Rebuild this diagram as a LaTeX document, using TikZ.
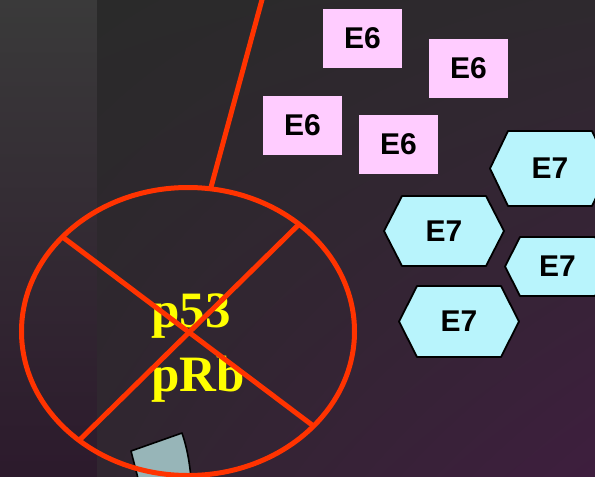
\documentclass[tikz,border=0pt]{standalone}
\usepackage{fontspec}
\setmainfont{Liberation Serif}
\newfontfamily\labelfont{Liberation Sans}
\usetikzlibrary{shadings,shapes.geometric}

\definecolor{stripTop}{HTML}{3A3A3A}
\definecolor{stripBot}{HTML}{2C1A2C}
\definecolor{bgUL}{HTML}{2A2A2A}
\definecolor{bgUR}{HTML}{2E292E}
\definecolor{bgLL}{HTML}{302630}
\definecolor{bgLR}{HTML}{3E1E3E}
\definecolor{crossRed}{HTML}{FF3300}
\definecolor{eSixPink}{HTML}{FFCCFF}
\definecolor{eSevenCyan}{HTML}{B8F4FC}
\definecolor{gateGray}{HTML}{97B5B8}
\definecolor{tagYellow}{HTML}{FFFF00}

\tikzset{
  esix/.style={rectangle, fill=eSixPink, minimum width=79pt, minimum height=59pt,
    inner sep=0pt, font=\labelfont\bfseries\fontsize{30}{30}\selectfont, text=black},
  esevenlabel/.style={inner sep=0pt, font=\labelfont\bfseries\fontsize{30}{30}\selectfont, text=black},
  hexshape/.style={fill=eSevenCyan, draw=black, line width=1.8pt, line join=round},
  redline/.style={draw=crossRed, line width=5pt},
  tag/.style={anchor=base west, inner sep=0pt, text=tagYellow,
    font=\bfseries\fontsize{51}{60}\selectfont},
}

% hexagon with a centred label: name, cx, cy, width, height, corner inset
\newcommand\hexlabel[6]{%
  \path[hexshape] ({#2-#4/2},#3) -- ({#2-#4/2+#6},{#3-#5/2}) -- ({#2+#4/2-#6},{#3-#5/2})
    -- ({#2+#4/2},#3) -- ({#2+#4/2-#6},{#3+#5/2}) -- ({#2-#4/2+#6},{#3+#5/2}) -- cycle;
  \node[esevenlabel] (#1) at (#2,#3) {E7};%
}

\begin{document}
\begin{tikzpicture}[x=1pt,y=-1pt]
  \useasboundingbox (0,0) rectangle (595,477);
  \clip (0,0) rectangle (595,477);

  % background panels
  \shade[top color=stripTop, bottom color=stripBot] (0,0) rectangle (97,477);
  \shade[shading=bilinear interpolation, upper left=bgUL, upper right=bgUR,
         lower left=bgLL, lower right=bgLR] (97,0) rectangle (595,477);

  % E6 proteins
  \node[esix] (e6a) at (362.5,38.5) {E6};
  \node[esix] (e6b) at (468.5,68.5) {E6};
  \node[esix] (e6c) at (302.5,125.5) {E6};
  \node[esix] (e6d) at (398.5,144.5) {E6};

  % E7 proteins
  \hexlabel{e7a}{550}{168.5}{120}{75}{18}
  \hexlabel{e7b}{444}{231}{120}{70}{18}
  \hexlabel{e7c}{557.5}{266.5}{105}{59}{15}
  \hexlabel{e7d}{459}{321.5}{120}{71}{18}

  % channel piece under the ring
  \path[fill=gateGray, draw=black, line width=1.6pt, line join=round]
    (131,451) -- (182,433) .. controls (187,448) and (190,462) .. (192,490)
    -- (141,490) -- cycle;

  % ring and the tumour suppressors it holds
  \node[ellipse, draw=crossRed, line width=5pt, minimum width=333pt, minimum height=288pt,
        inner sep=0pt, outer sep=0pt] (ring) at (188,331.5) {};
  \node[tag] (p53) at (151,327) {p53};
  \node[tag] (prb) at (151,391) {pRb};

  % tether and the cross over the ring
  \coordinate (tether) at (263,-4);
  \draw[redline] (tether) -- (ring.81);
  \draw[redline] (ring.143) -- (ring.-37);
  \draw[redline] (ring.44) -- (ring.225);
\end{tikzpicture}
\end{document}
